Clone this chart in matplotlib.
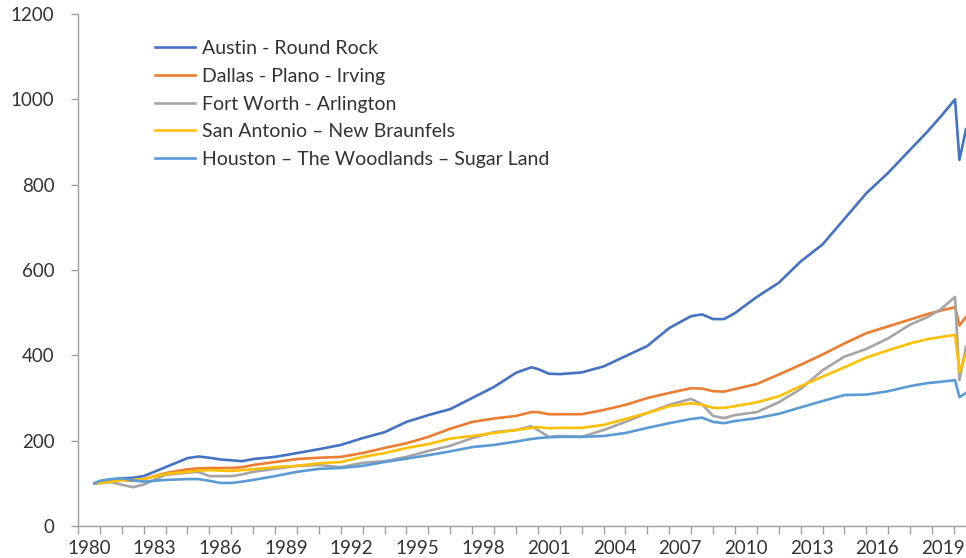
import matplotlib
matplotlib.use("Agg")
import matplotlib.pyplot as plt

years = [1980.75, 1981, 1981.5, 1982, 1982.5, 1983, 1984, 1985, 1985.5, 1986,
         1986.5, 1987, 1987.5, 1988, 1989, 1990, 1991, 1992, 1993, 1994,
         1995, 1996, 1997, 1998, 1999, 2000, 2000.7, 2001, 2001.5, 2002,
         2003, 2004, 2005, 2006, 2007, 2008, 2008.5, 2009, 2009.5, 2010,
         2011, 2012, 2013, 2014, 2015, 2016, 2017, 2018, 2018.8, 2019.4,
         2020.05, 2020.25, 2020.55]

austin = [100, 104, 108, 112, 113, 117, 138, 159, 163, 160,
          156, 154, 152, 157, 162, 171, 180, 190, 206, 220,
          244, 260, 274, 300, 326, 359, 372, 368, 357, 356,
          360, 374, 398, 422, 464, 492, 496, 485, 485, 499,
          537, 570, 620, 660, 720, 780, 828, 882, 925, 960,
          1000, 858, 930]

dallas = [100, 102, 106, 108, 106, 110, 124, 133, 135, 136,
          136, 136, 138, 143, 150, 157, 160, 162, 171, 183,
          194, 209, 228, 244, 252, 258, 267, 267, 262, 262,
          262, 272, 284, 300, 312, 323, 322, 316, 315, 321,
          333, 355, 378, 402, 428, 452, 468, 484, 497, 505,
          513, 470, 490]

fort_worth = [100, 100, 103, 97, 91, 97, 120, 125, 127, 117,
              117, 117, 121, 127, 134, 141, 143, 138, 148, 152,
              162, 176, 188, 206, 220, 225, 234, 225, 209, 211,
              209, 225, 244, 265, 284, 298, 285, 258, 253, 260,
              267, 290, 321, 365, 397, 415, 440, 472, 490, 508,
              537, 342, 420]

san_antonio = [100, 101, 104, 108, 108, 110, 122, 127, 130, 131,
               130, 129, 131, 133, 138, 141, 147, 150, 162, 171,
               183, 192, 205, 211, 218, 225, 230, 232, 229, 230,
               230, 237, 251, 265, 281, 288, 284, 277, 277, 281,
               290, 304, 328, 350, 372, 395, 412, 428, 438, 443,
               448, 361, 405]

houston = [100, 106, 110, 112, 107, 104, 108, 110, 110, 106,
           101, 101, 104, 108, 117, 127, 134, 136, 141, 150,
           158, 166, 175, 185, 190, 198, 204, 206, 208, 209,
           209, 211, 218, 230, 241, 251, 254, 244, 241, 246,
           253, 263, 278, 293, 307, 308, 316, 328, 335, 338,
           342, 302, 312]

labels = ["Austin - Round Rock", "Dallas - Plano - Irving", "Fort Worth - Arlington",
          "San Antonio – New Braunfels", "Houston – The Woodlands – Sugar Land"]
colors = ["#4472C4", "#ED7D31", "#A5A5A5", "#FFC000", "#5B9BD5"]
label_years = list(range(1980, 2020, 3))

plt.rcParams['font.family'] = ['Lato', 'DejaVu Sans']

fig = plt.figure(figsize=(9.66, 5.58), dpi=100)
ax = fig.add_axes([0.0807, 0.0573, 0.9193, 0.9176])

for series, lab, col in zip([austin, dallas, fort_worth, san_antonio, houston], labels, colors):
    ax.plot(years, series, color=col, lw=1.9, label=lab, solid_joinstyle="round")

ax.set_xlim(1980, 2020.55)
ax.set_ylim(0, 1200)
ax.set_yticks(range(0, 1201, 200))

# year boundaries as tick marks, labels centred in each year band
ax.set_xticks(range(1980, 2021))
ax.set_xticklabels([])
ax.set_xticks([y + 0.5 for y in label_years], minor=True)
ax.set_xticklabels([str(y) for y in label_years], minor=True)
ax.tick_params(axis="x", which="major", length=6, color="#a0a0a0", width=1)
ax.tick_params(axis="x", which="minor", length=0, pad=10, labelsize=13.5, labelcolor="#333333")
ax.tick_params(axis="y", length=5, color="#a0a0a0", width=1, pad=12, labelsize=13.5, labelcolor="#333333")

for s in ["top", "right"]:
    ax.spines[s].set_visible(False)
for s in ["left", "bottom"]:
    ax.spines[s].set_color("#a0a0a0")
    ax.spines[s].set_linewidth(1)

leg = ax.legend(loc="upper left", bbox_to_anchor=(0.1605, 0.928), bbox_transform=fig.transFigure,
                frameon=False, fontsize=14, handlelength=2.05, handletextpad=0.35,
                labelspacing=0.55, borderpad=0, borderaxespad=0)
for t in leg.get_texts():
    t.set_color("#333333")

fig.savefig("out.png", dpi=100)
